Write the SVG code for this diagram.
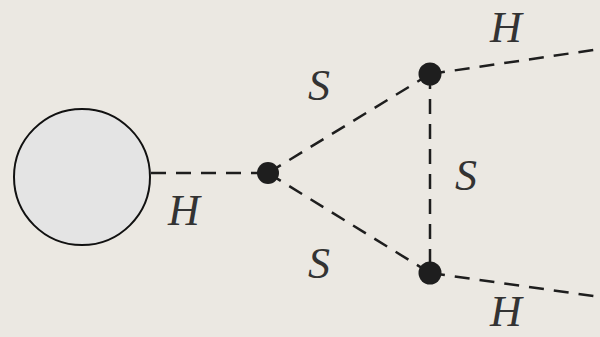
<svg xmlns="http://www.w3.org/2000/svg" width="600" height="337" viewBox="0 0 600 337">
<style>
.prop{stroke:#1e1e1e;stroke-width:2.5;stroke-dasharray:15 10;fill:none}
.v{fill:#1e1e1e}
.lbl{font-family:"Liberation Serif",serif;font-style:italic;font-size:44px;fill:#333}
</style>
<rect width="600" height="337" fill="#ebe8e2"/>
<g id="connectors">
<line class="prop" x1="151" y1="173" x2="268" y2="173"/>
<line class="prop" x1="268" y1="173" x2="430" y2="74"/>
<line class="prop" x1="268" y1="173" x2="430" y2="273"/>
<line class="prop" x1="430" y1="74" x2="430" y2="273"/>
<line class="prop" x1="430" y1="74" x2="600" y2="49"/>
<line class="prop" x1="430" y1="273" x2="600" y2="297"/>
</g>
<g id="blob"><circle cx="82" cy="177" r="68" fill="#e4e4e4" stroke="#111" stroke-width="2"/></g>
<g id="v1"><circle class="v" cx="268" cy="173" r="11"/></g>
<g id="v2"><circle class="v" cx="430" cy="74" r="11.5"/></g>
<g id="v3"><circle class="v" cx="430" cy="273" r="11.5"/></g>
<g id="labels">
<text class="lbl" x="168" y="225">H</text>
<text class="lbl" x="308" y="100">S</text>
<text class="lbl" x="308" y="278">S</text>
<text class="lbl" x="455" y="190">S</text>
<text class="lbl" x="490" y="42">H</text>
<text class="lbl" x="490" y="326">H</text>
</g>
</svg>
